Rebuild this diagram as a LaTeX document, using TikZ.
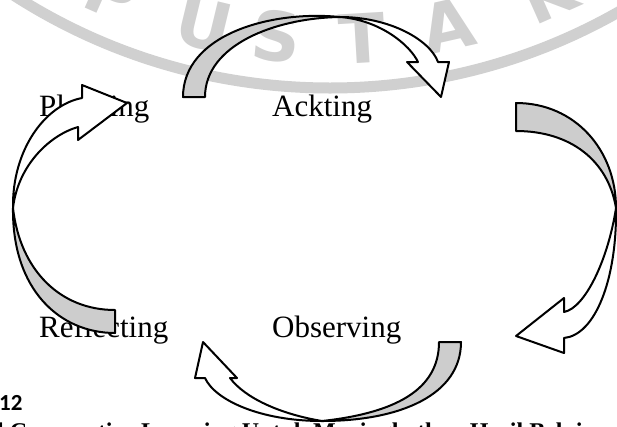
\documentclass[tikz,border=0pt]{standalone}
\usepackage{fontspec}
\setmainfont{Liberation Serif}
\newfontfamily\stampfont{DejaVuSans-Bold.ttf}
\newfontfamily\numfont{Carlito}
\usetikzlibrary{calc}
\definecolor{shade}{RGB}{205,205,205}
\definecolor{stampgray}{RGB}{208,208,208}

\begin{document}
\begin{tikzpicture}[x=1pt,y=-1pt]
\tikzstyle{every node}=[inner sep=0pt];
\tikzstyle{phase}=[anchor=base west,font=\fontsize{31}{37}\selectfont]
\tikzstyle{stamp}=[text=stampgray,font=\stampfont\fontsize{68}{68}\selectfont]
\tikzstyle{face}=[draw=black,fill=shade,line width=2pt,line join=round]
\tikzstyle{head}=[draw=black,fill=white,line width=2pt,line join=round]

\useasboundingbox (0,0) rectangle (617,426);

% watermark of the library stamp
\begin{scope}
  \clip (0,0) rectangle (617,426);
  \coordinate (hub) at (330,-497);
  \draw[stampgray,line width=11pt] (hub) circle (585);
  \foreach \ch/\a in {P/-24,U/-13.6,S/-5.7,T/3.4,A/12.7,K/24,A/32.5}
    \node[stamp,rotate=\a] at ($(hub)+({90-\a}:536)$) {\ch};
\end{scope}

% phases of the cycle
\node[phase] (plan) at (39,116) {Planning};
\node[phase] (act) at (272,116) {Ackting};
\node[phase] (refl) at (39,337) {Reflecting};
\node[phase] (obs) at (272,337) {Observing};

% caption cut at the bottom
\node[anchor=base west,font=\numfont\bfseries\fontsize{23}{23}\selectfont] (num) at (-1,410) {12};
\node[anchor=base west,font=\bfseries\fontsize{24}{24}\selectfont] (cap) at (-3,439) {l Cooperative Learning Untuk Meningkatkan Hasil Belajar};

% planning -> acting
\draw[face] (183,97) .. controls (183,35) and (270,10) .. (340,17) .. controls (275,18) and (205,45) .. (205,97) -- cycle;
\draw[head] (340,17) .. controls (390,17) and (430,40) .. (438,62) -- (449,62) -- (441,97) -- (407,62) -- (418,62) .. controls (410,45) and (380,20) .. (340,17) -- cycle;

% acting -> observing
\draw[face] (516,103) .. controls (575,103) and (616,150) .. (616,208) .. controls (608,160) and (570,131) .. (516,131) -- cycle;
\draw[head] (616,208) .. controls (617,280) and (595,335) .. (564,338) -- (564,353) -- (516,336) -- (564,298) -- (564,312) .. controls (585,308) and (608,260) .. (616,208) -- cycle;

% observing -> reflecting
\draw[face] (461,342) .. controls (461,395) and (400,421) .. (322,421) .. controls (395,413) and (439,390) .. (439,342) -- cycle;
\draw[head] (322,421) .. controls (260,421) and (215,400) .. (205,378) -- (195,378) -- (203,342) -- (237,378) -- (230,378) .. controls (245,398) and (280,414) .. (322,421) -- cycle;

% reflecting -> planning
\draw[face] (115,333) .. controls (60,333) and (12,290) .. (13,208) .. controls (20,270) and (60,310) .. (115,310) -- cycle;
\draw[head] (13,208) .. controls (12,150) and (45,105) .. (82,98) -- (82,85) -- (127,103) -- (78,140) -- (78,127) .. controls (50,135) and (18,165) .. (13,208) -- cycle;
\end{tikzpicture}
\end{document}
